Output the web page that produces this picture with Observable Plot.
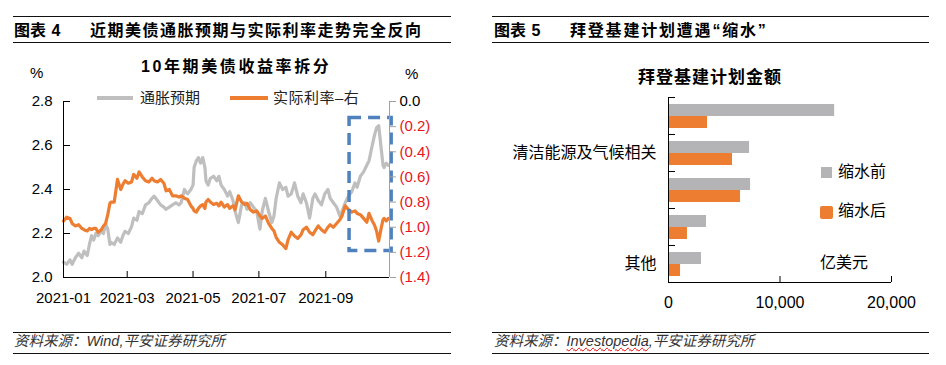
<!DOCTYPE html>
<html><head><meta charset="utf-8">
<script src="https://cdn.jsdelivr.net/npm/d3@7"></script>
<script src="https://cdn.jsdelivr.net/npm/@observablehq/plot@0.6"></script>
<style>
body{margin:0;background:#fff;width:946px;height:365px;position:relative;overflow:hidden;font-family:"Liberation Sans",Arial,"Noto Sans CJK SC",sans-serif;color:#000}
.a{position:absolute;white-space:nowrap;line-height:20px}
.r{position:absolute;height:0;border-top:1.3px solid #111}
.h{font-weight:bold;font-size:16px}
.f{font-style:italic;font-size:14.5px;color:#333}
#L,#R{position:absolute;top:0}
#L{left:0}#R{left:473px}
svg{overflow:visible}
</style></head><body>
<div class="r" style="left:13px;top:16px;width:438px"></div>
<div class="a h" style="left:14px;top:21px;word-spacing:1px">图表 4</div>
<div class="a h" style="left:90px;top:21px;letter-spacing:1.5px">近期美债通胀预期与实际利率走势完全反向</div>
<div class="r" style="left:13px;top:42px;width:438px"></div>
<div class="a" style="left:141px;top:57px;font-weight:bold;font-size:16px;letter-spacing:2.6px">10年期美债收益率拆分</div>
<div class="a" style="left:30px;top:63px;font-size:15px">%</div>
<div class="a" style="left:405px;top:64px;font-size:15px">%</div>
<div class="a" style="left:97px;top:96px;width:36px;height:4px;background:#bfbfbf"></div>
<div class="a" style="left:140px;top:88px;font-size:15px;color:#222">通胀预期</div>
<div class="a" style="left:230px;top:96px;width:38px;height:4px;background:#ed7d31"></div>
<div class="a" style="left:273px;top:88px;font-size:15px;color:#222;letter-spacing:0.5px">实际利率–右</div>
<div class="r" style="left:13px;top:332px;width:438px"></div>
<div class="a f" style="left:14px;top:331px">资料来源：Wind,平安证券研究所</div>
<div class="r" style="left:13px;top:353px;width:438px"></div>

<div class="r" style="left:492px;top:16px;width:437px"></div>
<div class="a h" style="left:494px;top:21px;word-spacing:1px">图表 5</div>
<div class="a h" style="left:570px;top:21px;letter-spacing:1.8px">拜登基建计划遭遇“缩水”</div>
<div class="r" style="left:492px;top:42px;width:437px"></div>
<div class="a" style="left:638px;top:68px;font-weight:bold;font-size:17px;letter-spacing:1px">拜登基建计划金额</div>
<div class="a" style="left:821px;top:167px;width:11px;height:11px;background:#b4b3b6"></div>
<div class="a" style="left:838px;top:162px;font-size:16px">缩水前</div>
<div class="a" style="left:820px;top:206px;width:13px;height:13px;border-radius:2px;background:#ed7d31"></div>
<div class="a" style="left:838px;top:201px;font-size:16px">缩水后</div>
<div class="a" style="left:820px;top:253px;font-size:16px">亿美元</div>
<div class="r" style="left:492px;top:332px;width:437px"></div>
<div class="a f" style="left:494px;top:331px">资料来源：<span style="text-decoration:underline wavy #e00;text-decoration-thickness:1px">Investopedia</span>,平安证券研究所</div>
<div class="r" style="left:492px;top:353px;width:437px"></div>

<div id="L"></div><div id="R"></div>
<script>
// ---- Left chart data ----
const dates = ["2021-01-01","2021-01-04","2021-01-07","2021-01-09","2021-01-12","2021-01-15","2021-01-18","2021-01-20","2021-01-23","2021-01-25","2021-01-27","2021-01-29","2021-01-31","2021-02-02","2021-02-05","2021-02-07","2021-02-09","2021-02-11","2021-02-13","2021-02-14","2021-02-17","2021-02-20","2021-02-23","2021-02-25","2021-02-27","2021-03-02","2021-03-05","2021-03-07","2021-03-10","2021-03-12","2021-03-15","2021-03-18","2021-03-21","2021-03-24","2021-03-26","2021-03-29","2021-04-01","2021-04-04","2021-04-06","2021-04-09","2021-04-12","2021-04-15","2021-04-18","2021-04-20","2021-04-23","2021-04-26","2021-04-29","2021-05-01","2021-05-02","2021-05-04","2021-05-06","2021-05-08","2021-05-10","2021-05-12","2021-05-13","2021-05-15","2021-05-17","2021-05-20","2021-05-23","2021-05-25","2021-05-27","2021-05-30","2021-06-02","2021-06-04","2021-06-07","2021-06-09","2021-06-12","2021-06-15","2021-06-18","2021-06-20","2021-06-23","2021-06-26","2021-06-29","2021-07-02","2021-07-04","2021-07-07","2021-07-10","2021-07-13","2021-07-15","2021-07-17","2021-07-20","2021-07-23","2021-07-26","2021-07-28","2021-07-31","2021-08-03","2021-08-06","2021-08-09","2021-08-11","2021-08-14","2021-08-17","2021-08-20","2021-08-22","2021-08-25","2021-08-28","2021-08-31","2021-09-03","2021-09-05","2021-09-08","2021-09-11","2021-09-14","2021-09-16","2021-09-19","2021-09-22","2021-09-25","2021-09-28","2021-09-30","2021-10-03","2021-10-06","2021-10-09","2021-10-11","2021-10-14","2021-10-16","2021-10-18","2021-10-20","2021-10-22","2021-10-24","2021-10-25","2021-10-27","2021-10-29"];
const inflation = [2.07,2.06,2.08,2.06,2.09,2.11,2.09,2.12,2.10,2.15,2.19,2.17,2.20,2.19,2.21,2.20,2.245,2.22,2.15,2.16,2.15,2.18,2.16,2.19,2.21,2.20,2.23,2.27,2.26,2.30,2.29,2.33,2.34,2.36,2.37,2.35,2.33,2.32,2.31,2.32,2.33,2.34,2.33,2.34,2.40,2.38,2.40,2.42,2.50,2.53,2.545,2.52,2.545,2.50,2.44,2.42,2.45,2.46,2.44,2.46,2.42,2.40,2.37,2.39,2.35,2.30,2.25,2.33,2.34,2.31,2.34,2.32,2.30,2.22,2.30,2.36,2.30,2.25,2.28,2.36,2.43,2.40,2.41,2.37,2.38,2.43,2.37,2.34,2.38,2.34,2.27,2.36,2.38,2.35,2.33,2.38,2.40,2.36,2.34,2.32,2.28,2.30,2.34,2.37,2.39,2.43,2.41,2.46,2.48,2.51,2.53,2.60,2.645,2.68,2.69,2.60,2.51,2.50,2.52,2.51];
const realRate = [-0.95,-0.92,-0.93,-0.97,-0.99,-0.98,-1.01,-1.02,-1.03,-1.01,-1.02,-1.01,-1.01,-1.04,-1.02,-0.99,-0.97,-0.90,-0.81,-0.80,-0.80,-0.62,-0.70,-0.66,-0.63,-0.65,-0.64,-0.58,-0.61,-0.56,-0.60,-0.63,-0.64,-0.61,-0.63,-0.64,-0.62,-0.65,-0.71,-0.70,-0.75,-0.75,-0.76,-0.75,-0.77,-0.78,-0.83,-0.85,-0.87,-0.88,-0.85,-0.83,-0.82,-0.85,-0.80,-0.78,-0.80,-0.82,-0.81,-0.83,-0.80,-0.84,-0.82,-0.85,-0.83,-0.86,-0.75,-0.80,-0.82,-0.81,-0.86,-0.88,-0.87,-0.91,-0.93,-0.91,-0.97,-1.01,-1.03,-1.08,-1.12,-1.14,-1.17,-1.10,-1.04,-1.07,-1.09,-1.06,-1.02,-1.00,-1.04,-1.06,-1.03,-0.99,-1.02,-1.04,-1.00,-0.98,-1.00,-0.97,-0.94,-0.91,-0.83,-0.86,-0.88,-0.87,-0.89,-0.90,-0.93,-0.96,-0.89,-0.95,-0.98,-1.03,-1.11,-1.02,-0.94,-0.93,-0.95,-0.93];
const xDomain = ["2021-01-01","2021-10-30"];
const xTicks = ["2021-01-01","2021-03-01","2021-05-01","2021-07-01","2021-09-01"];
const leftTicks = [2.0,2.2,2.4,2.6,2.8];
const rightTicks = [0,-0.2,-0.4,-0.6,-0.8,-1.0,-1.2,-1.4];
const boxX = ["2021-09-23","2021-11-01"];
const boxY = [2.12,2.725];

// ---- Right chart data ----
const categories = ["分项一","清洁能源及气候相关","分项三","分项四","其他"];
const shownCategories = ["清洁能源及气候相关","其他"];
const before = [14900,7270,7360,3410,2960];
const after = [3500,5740,6460,1700,1080];
const barTicks = [0,10000,20000];

const FONT = '"Liberation Sans",Arial,"Noto Sans CJK SC",sans-serif';
const toLeft = v => 2.8 + v * 0.8 / 1.4;
const fromLeft = y => (y - 2.8) * 1.4 / 0.8;
const fmtR = v => { const a = Math.abs(v).toFixed(1); return v < -1e-9 ? `(${a})` : a; };

const rows = dates.map((d, i) => ({date: new Date(d), infl: inflation[i], real: realRate[i]}));
const xd = xDomain.map(d => new Date(d));

const left = Plot.plot({
  width: 473, height: 330,
  marginLeft: 63, marginRight: 84, marginTop: 101, marginBottom: 53,
  style: {fontFamily: FONT, fontSize: "15px", color: "#000", background: "transparent", overflow: "visible"},
  x: {type: "utc", domain: xd, label: null},
  y: {domain: [2.0, 2.8], label: null},
  marks: [
    Plot.line(rows, {x: "date", y: "infl", stroke: "#bfbfbf", strokeWidth: 3.2}),
    Plot.line(rows, {x: "date", y: d => toLeft(d.real), stroke: "#ed7d31", strokeWidth: 3.2}),
    Plot.rect([{x1: new Date(boxX[0]), x2: new Date(boxX[1]), y1: boxY[0], y2: boxY[1]}],
      {x1: "x1", x2: "x2", y1: "y1", y2: "y2", fill: "none", stroke: "#4f81bd", strokeWidth: 3.5, strokeDasharray: "12,7"}),
    Plot.ruleX([xd[0]], {stroke: "#000"}),
    Plot.ruleX([xd[1]], {stroke: "#a0a0a0"}),
    Plot.ruleY([2.0], {stroke: "#000"}),
    Plot.axisY(leftTicks, {anchor: "left", tickSize: -7, tickPadding: 18, tickFormat: d3.format(".1f"), stroke: "#000", fill: "#000", label: null}),
    Plot.axisY([toLeft(rightTicks[0])], {anchor: "right", tickSize: 6, tickPadding: 4, tickFormat: d => fmtR(fromLeft(d)), stroke: "#a0a0a0", fill: "#000", label: null}),
    Plot.axisY(rightTicks.slice(1).map(toLeft), {anchor: "right", tickSize: 6, tickPadding: 4, tickFormat: d => fmtR(fromLeft(d)), stroke: "#a0a0a0", fill: "#e8141c", label: null}),
    Plot.axisX(xTicks.map(d => new Date(d)), {anchor: "bottom", tickSize: -6, tickPadding: 21, tickFormat: d3.utcFormat("%Y-%m"), stroke: "#000", fill: "#000", label: null})
  ]
});
document.getElementById("L").append(left);

const bars = categories.map((c, i) => ({cat: c, before: before[i], after: after[i]}));
const right = Plot.plot({
  width: 473, height: 330,
  marginLeft: 195, marginRight: 55, marginTop: 97, marginBottom: 48,
  style: {fontFamily: FONT, fontSize: "16px", color: "#000", background: "transparent", overflow: "visible"},
  x: {domain: [0, 20000], label: null},
  y: {type: "band", domain: categories, padding: 0, label: null},
  marks: [
    Plot.barX(bars, {y: "cat", x: "before", fill: "#b4b3b6", insetTop: 7, insetBottom: 18}),
    Plot.barX(bars, {y: "cat", x: "after", fill: "#ed7d31", insetTop: 19, insetBottom: 6}),
    Plot.ruleX([0], {stroke: "#000"}),
    Plot.axisY(shownCategories, {anchor: "left", tickSize: 0, tickPadding: 12, fill: "#000", label: null}),
    Plot.axisX(barTicks, {anchor: "bottom", tickSize: -6, tickPadding: 20, tickFormat: d3.format(","), stroke: "#000", fill: "#000", label: null})
  ]
});
document.getElementById("R").append(right);

// band-boundary ticks and bottom axis line, positioned by Plot's own scales
const ys = right.scale("y"), xs = right.scale("x");
const yApply = ys.apply ? ys.apply : d3.scaleBand(ys.domain, ys.range).padding(0);
const xApply = xs.apply ? xs.apply : d3.scaleLinear(xs.domain, xs.range);
const bw = ys.bandwidth != null ? ys.bandwidth : (ys.range[1] - ys.range[0]) / categories.length;
const g = d3.select(right).append("g").attr("stroke", "#000").attr("stroke-width", 1);
const x0 = xApply(0);
categories.forEach(c => {
  const y = Math.round(yApply(c)) + 0.5;
  g.append("line").attr("x1", x0).attr("x2", x0 + 7).attr("y1", y).attr("y2", y);
});
const yb = Math.round(yApply(categories[categories.length - 1]) + bw) + 0.5;
g.append("line").attr("x1", x0).attr("x2", xApply(barTicks[barTicks.length - 1])).attr("y1", yb).attr("y2", yb);
</script>
</body></html>
